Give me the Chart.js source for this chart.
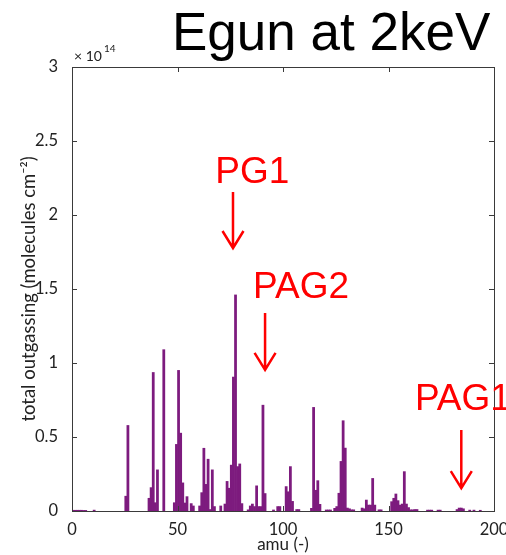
<!DOCTYPE html>
<html>
<head>
<meta charset="utf-8">
<title>Egun at 2keV</title>
<script src="https://cdn.jsdelivr.net/npm/chart.js@4.4.1/dist/chart.umd.min.js"></script>
<style>
  html, body { margin: 0; padding: 0; background: #fff; }
  #wrap { width: 506px; height: 555px; }
</style>
</head>
<body>
<div id="wrap"><canvas id="outgassingChart" width="506" height="555"></canvas></div>
<script>
// mass bins (amu) with measurable outgassing
const amu = [
  0, 1, 2, 3, 4, 5, 6, 10,
  25, 26,
  36, 37, 38, 39, 40, 43,
  48, 49, 50, 51, 52, 53, 54, 56, 57,
  60, 61, 62, 63, 64, 65, 66, 67,
  70, 72, 73, 74, 75, 76, 77, 78, 79, 80,
  83, 84, 85, 86, 87, 88, 89, 90, 91,
  95, 97, 98,
  101, 102, 103, 104, 106, 107,
  113, 114, 115, 116, 117, 120, 121, 122,
  124, 125, 126, 127, 128, 129, 130, 131, 132, 133,
  137, 138, 139, 140, 141, 142, 143, 145, 146,
  151, 152, 153, 154, 155, 156, 157, 158, 159, 160, 161, 162, 163,
  168, 169, 170, 173, 174,
  182, 183, 184, 185, 188, 190, 193
];
// total outgassing per bin, units of 1e14 molecules cm^-2
const outgassing = [
  0.005, 0.005, 0.005, 0.005, 0.005, 0.004, 0.004, 0.006,
  0.10, 0.578,
  0.086, 0.158, 0.936, 0.056, 0.278, 1.09,
  0.056, 0.45, 0.95, 0.526, 0.19, 0.054, 0.097, 0.05, 0.034,
  0.034, 0.124, 0.424, 0.18, 0.35, 0.01, 0.278, 0.03,
  0.034, 0.047, 0.2, 0.154, 0.31, 0.905, 1.46, 0.30, 0.318, 0.05,
  0.008, 0.034, 0.047, 0.03, 0.17, 0.03, 0.03, 0.715, 0.118,
  0.007, 0.03, 0.03,
  0.165, 0.13, 0.30, 0.065, 0.01, 0.01,
  0.018, 0.70, 0.14, 0.205, 0.045, 0.007, 0.007, 0.007,
  0.018, 0.03, 0.12, 0.335, 0.61, 0.425, 0.02, 0.015, 0.008, 0.008,
  0.02, 0.015, 0.074, 0.04, 0.04, 0.22, 0.04, 0.008, 0.008,
  0.063, 0.086, 0.115, 0.07, 0.04, 0.047, 0.266, 0.047, 0.023, 0.008, 0.008, 0.01, 0.01,
  0.006, 0.006, 0.006, 0.006, 0.006,
  0.01, 0.02, 0.02, 0.015, 0.006, 0.006, 0.005
];
const xTicks = [0, 50, 100, 150, 200];
const yTicks = [0, 0.5, 1, 1.5, 2, 2.5, 3];

// species labels: text anchor and arrow, in axis units (amu, 1e14)
const peakLabels = ['PG1', 'PAG2', 'PAG1'];
const labelAt = [[67.9, 2.215], [85.8, 1.44], [162.5, 0.68]];
const arrowAt = [[76.3, 2.155, 1.777], [91.5, 1.338, 0.953], [184.5, 0.547, 0.155]];

const axisFont = { family: 'Lato, "Open Sans", sans-serif', size: 16.5 };

// box, inward ticks, exponent, title and arrows
const decorations = {
  id: 'decorations',
  afterDraw(chart) {
    const { ctx, chartArea: a, scales: { x, y } } = chart;
    ctx.save();
    ctx.strokeStyle = '#3a3a3a';
    ctx.lineWidth = 1;
    ctx.strokeRect(a.left + 0.5, a.top + 0.5, a.right - a.left, a.bottom - a.top);
    ctx.beginPath();
    xTicks.forEach(v => {
      const px = Math.round(x.getPixelForValue(v)) + 0.5;
      ctx.moveTo(px, a.bottom); ctx.lineTo(px, a.bottom - 5);
      ctx.moveTo(px, a.top); ctx.lineTo(px, a.top + 5);
    });
    yTicks.forEach(v => {
      const py = Math.round(y.getPixelForValue(v)) + 0.5;
      ctx.moveTo(a.left, py); ctx.lineTo(a.left + 5, py);
      ctx.moveTo(a.right, py); ctx.lineTo(a.right - 5, py);
    });
    ctx.stroke();

    // y exponent
    ctx.fillStyle = '#222';
    ctx.textBaseline = 'alphabetic';
    ctx.font = '14px Lato, "Open Sans", sans-serif';
    ctx.fillText('\u00d7 10', a.left + 2, a.top - 6);
    const w = ctx.measureText('\u00d7 10').width;
    ctx.font = '10px Lato, "Open Sans", sans-serif';
    ctx.fillText('14', a.left + 4 + w, a.top - 15);

    // heading
    ctx.fillStyle = '#000';
    ctx.font = '53px "Liberation Sans", Arial, sans-serif';
    ctx.fillText('Egun at 2keV', 172, 50);

    // peak annotations
    ctx.fillStyle = '#ff0000';
    ctx.strokeStyle = '#ff0000';
    ctx.lineWidth = 2.5;
    ctx.font = '37px "Liberation Sans", Arial, sans-serif';
    peakLabels.forEach((t, i) => {
      ctx.fillText(t, x.getPixelForValue(labelAt[i][0]), y.getPixelForValue(labelAt[i][1]));
      const ax = x.getPixelForValue(arrowAt[i][0]);
      const y0 = y.getPixelForValue(arrowAt[i][1]);
      const y1 = y.getPixelForValue(arrowAt[i][2]);
      ctx.beginPath();
      ctx.moveTo(ax, y0); ctx.lineTo(ax, y1);
      ctx.moveTo(ax - 10.5, y1 - 17); ctx.lineTo(ax, y1); ctx.lineTo(ax + 10.5, y1 - 17);
      ctx.stroke();
    });
    ctx.restore();
  }
};

new Chart(document.getElementById('outgassingChart'), {
  type: 'bar',
  data: {
    datasets: [{
      data: amu.map((m, i) => ({ x: m + 0.5, y: outgassing[i] })),
      backgroundColor: '#7d1b7e',
      borderWidth: 0,
      barPercentage: 1,
      categoryPercentage: 1
    }]
  },
  options: {
    responsive: false,
    animation: false,
    layout: { padding: { top: 67, right: 12, left: 0, bottom: 0 } },
    plugins: { legend: { display: false }, tooltip: { enabled: false } },
    scales: {
      x: {
        type: 'linear',
        offset: false,
        min: 0,
        max: 200,
        afterBuildTicks: s => { s.ticks = xTicks.map(v => ({ value: v })); },
        afterFit: s => { s.height = 44; s.paddingLeft = 0; s.paddingRight = 0; },
        grid: { display: false },
        border: { display: false },
        ticks: { color: '#222', font: axisFont, padding: 1, maxRotation: 0, autoSkip: false },
        title: { display: true, text: 'amu (-)', color: '#222', font: { family: axisFont.family, size: 17 }, padding: { top: 0, bottom: 0 } }
      },
      y: {
        min: 0,
        max: 3,
        afterBuildTicks: s => { s.ticks = yTicks.map(v => ({ value: v })); },
        afterFit: s => { s.width = 72; s.paddingTop = 0; s.paddingBottom = 0; },
        grid: { display: false },
        border: { display: false },
        ticks: { color: '#222', font: axisFont, padding: 6, callback: v => String(v) },
        title: { display: true, text: 'total outgassing (molecules cm\u207b\u00b2)', color: '#222', font: { family: axisFont.family, size: 18.5 }, padding: { top: 18, bottom: 0 } }
      }
    }
  },
  plugins: [decorations]
});
</script>
</body>
</html>
